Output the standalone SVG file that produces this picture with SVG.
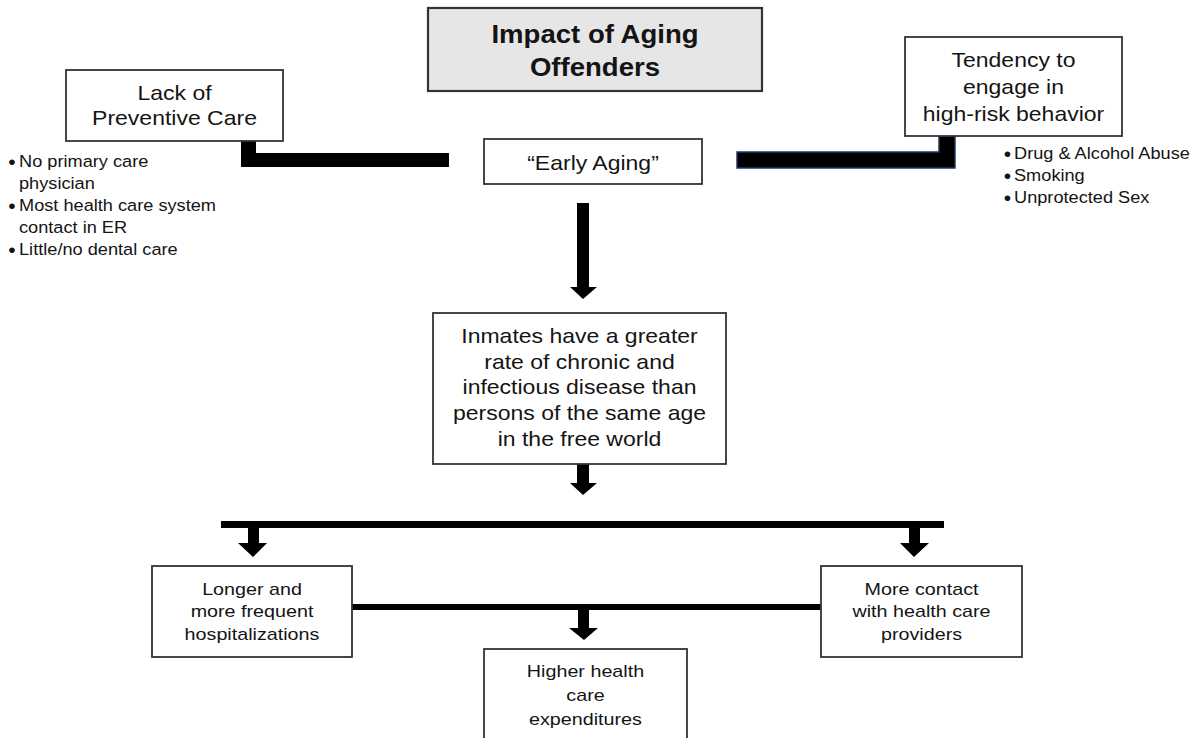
<svg xmlns="http://www.w3.org/2000/svg" width="1201" height="738" viewBox="0 0 1201 738">
  <style>
    .box { fill: #ffffff; stroke: #333333; stroke-width: 1.8; }
    .title-box { fill: #e6e6e6; stroke: #333333; stroke-width: 2.2; }
    text { font-family: "Liberation Sans", Arial, sans-serif; fill: #141414; }
    .c { text-anchor: middle; }
    .main { font-size: 20px; }
    .title { font-size: 26px; font-weight: bold; }
    .small { font-size: 17px; }
    .bullet { font-size: 17px; }
    .dot { font-size: 21px; text-anchor: middle; }
    .bar { fill: #000000; }
    .bar-navy { fill: #000000; stroke: #1f3864; stroke-width: 1.5; }
  </style>

  <rect width="1201" height="738" fill="#ffffff"/>

  <!-- Connectors: thick bars and block arrows -->
  <g id="connectors">
    <!-- from Lack of Preventive Care toward Early Aging -->
    <path class="bar" d="M241,139 H256 V153 H449 V167 H241 Z"/>
    <!-- from Tendency box toward Early Aging -->
    <path class="bar-navy" d="M737,152 H939 V136 H955 V168 H737 Z"/>
    <!-- Early Aging down to Inmates -->
    <path class="bar" d="M577,203 H589 V287 H597 L583,299 L570,287 H577 Z"/>
    <!-- Inmates down to distribution bar -->
    <path class="bar" d="M577,464 H589 V483 H597 L583,495 L570,483 H577 Z"/>
    <!-- distribution bar -->
    <rect class="bar" x="221" y="521" width="723" height="7"/>
    <path class="bar" d="M248,528 H259 V543 H267 L253,557 L238,543 H248 Z"/>
    <path class="bar" d="M909,528 H920 V543 H929 L914,557 L900,543 H909 Z"/>
    <!-- bar joining the two lower boxes -->
    <rect class="bar" x="352" y="604" width="469" height="6"/>
    <path class="bar" d="M578,610 H589 V628 H598 L584,640 L569,628 H578 Z"/>
  </g>

  <g id="node-title">
    <rect class="title-box" x="428" y="8" width="334" height="83"/>
    <g transform="translate(595,0) scale(1.06,1)">
      <text class="title c" x="0" y="43.5">Impact of Aging</text>
      <text class="title c" x="0" y="76">Offenders</text>
    </g>
  </g>

  <g id="node-preventive">
    <rect class="box" x="66" y="70" width="217" height="71"/>
    <g transform="translate(174.5,0) scale(1.15,1)">
      <text class="main c" x="0" y="100">Lack of</text>
      <text class="main c" x="0" y="125.5">Preventive Care</text>
    </g>
    <!-- bullet list -->
    <text class="dot" x="12" y="168.5">•</text>
    <text class="dot" x="12" y="212.5">•</text>
    <text class="dot" x="12" y="256.5">•</text>
    <g transform="translate(19,0) scale(1.07,1)">
      <text class="bullet" x="0" y="167.5">No primary care</text>
      <text class="bullet" x="0" y="189.5">physician</text>
      <text class="bullet" x="0" y="211.5">Most health care system</text>
      <text class="bullet" x="0" y="233.5">contact in ER</text>
      <text class="bullet" x="0" y="255.5">Little/no dental care</text>
    </g>
  </g>

  <g id="node-risk">
    <rect class="box" x="905" y="37" width="217" height="99"/>
    <g transform="translate(1013.5,0) scale(1.15,1)">
      <text class="main c" x="0" y="67">Tendency to</text>
      <text class="main c" x="0" y="94.5">engage in</text>
      <text class="main c" x="0" y="121">high-risk behavior</text>
    </g>
    <!-- bullet list -->
    <text class="dot" x="1007.5" y="160.5">•</text>
    <text class="dot" x="1007.5" y="182.5">•</text>
    <text class="dot" x="1007.5" y="204.5">•</text>
    <g transform="translate(1014,0) scale(1.07,1)">
      <text class="bullet" x="0" y="159.5">Drug &amp; Alcohol Abuse</text>
      <text class="bullet" x="0" y="181.5">Smoking</text>
      <text class="bullet" x="0" y="203.5">Unprotected Sex</text>
    </g>
  </g>

  <g id="node-early">
    <rect class="box" x="484" y="139" width="218" height="45"/>
    <g transform="translate(593,0) scale(1.15,1)">
      <text class="main c" x="0" y="170">“Early Aging”</text>
    </g>
  </g>

  <g id="node-inmates">
    <rect class="box" x="433" y="313" width="293" height="151"/>
    <g transform="translate(579.5,0) scale(1.15,1)">
      <text class="main c" x="0" y="343.5">Inmates have a greater</text>
      <text class="main c" x="0" y="369">rate of chronic and</text>
      <text class="main c" x="0" y="394.5">infectious disease than</text>
      <text class="main c" x="0" y="420">persons of the same age</text>
      <text class="main c" x="0" y="446">in the free world</text>
    </g>
  </g>

  <g id="node-hospital">
    <rect class="box" x="152" y="566" width="200" height="91"/>
    <g transform="translate(252,0) scale(1.16,1)">
      <text class="small c" x="0" y="595.5">Longer and</text>
      <text class="small c" x="0" y="617.5">more frequent</text>
      <text class="small c" x="0" y="640.5">hospitalizations</text>
    </g>
  </g>

  <g id="node-contact">
    <rect class="box" x="821" y="566" width="201" height="91"/>
    <g transform="translate(921.5,0) scale(1.16,1)">
      <text class="small c" x="0" y="595.5">More contact</text>
      <text class="small c" x="0" y="617.5">with health care</text>
      <text class="small c" x="0" y="640.5">providers</text>
    </g>
  </g>

  <g id="node-expenditures">
    <rect class="box" x="484" y="649" width="203" height="95"/>
    <g transform="translate(585.5,0) scale(1.16,1)">
      <text class="small c" x="0" y="677">Higher health</text>
      <text class="small c" x="0" y="701">care</text>
      <text class="small c" x="0" y="725">expenditures</text>
    </g>
  </g>
</svg>
